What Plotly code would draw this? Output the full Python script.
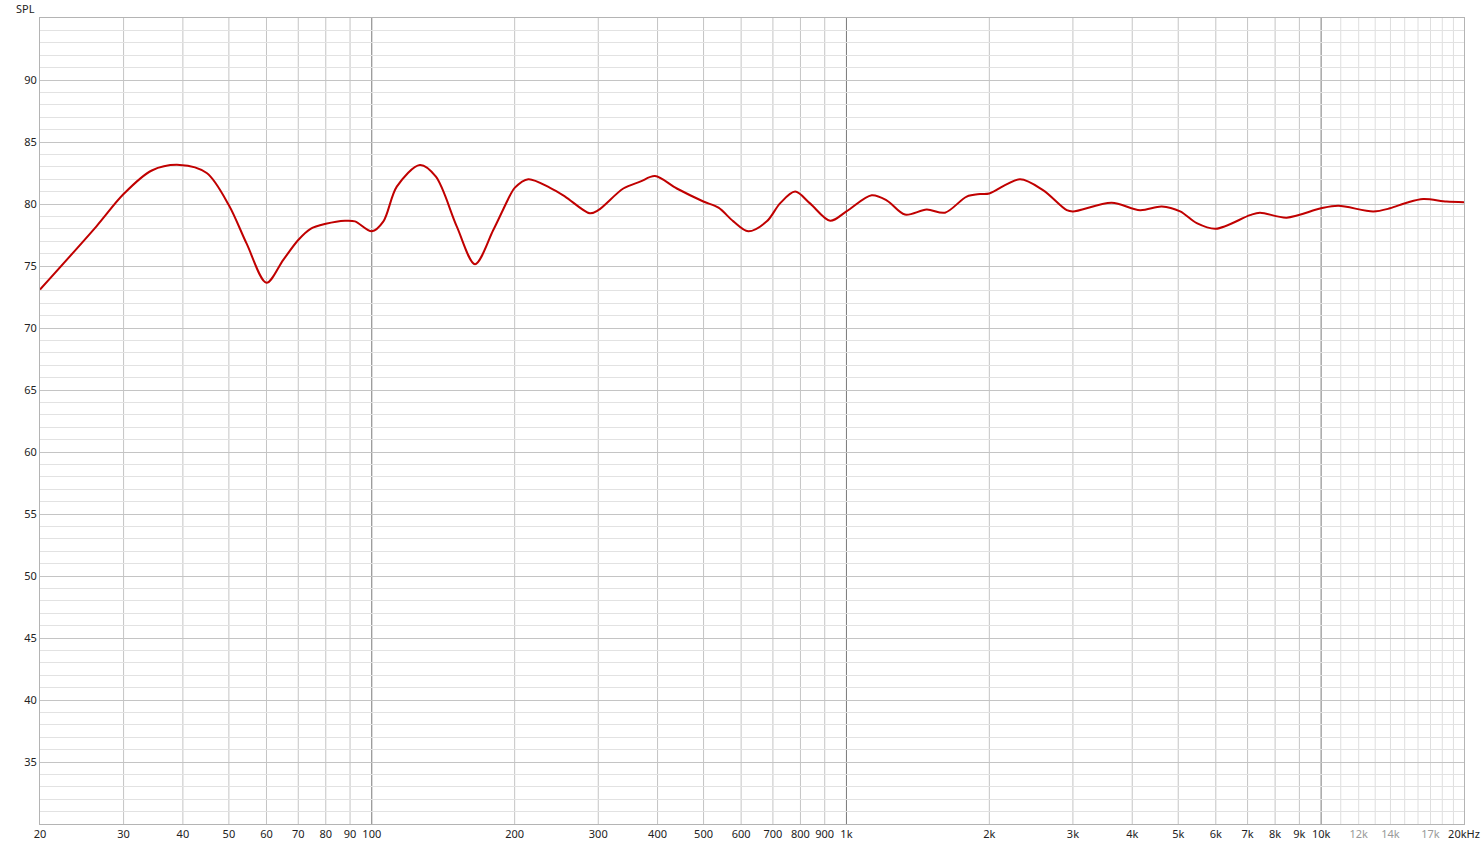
import plotly.graph_objects as go

# frequency response
freq_hz = [20, 26.3, 30, 34.4, 39.4, 44.9, 50, 54.5, 60, 65.1, 70, 74.3, 80, 87.8, 92.2,
           100, 105.8, 112.9, 126.3, 136.5, 151, 165, 180.3, 195.6, 200, 213.7, 237.5,
           255.4, 288, 300, 338.8, 367.5, 395, 439.2, 499.5, 537.6, 577.9, 621, 679.6,
           724.6, 779.7, 838, 924, 1000, 1130, 1215, 1328, 1476, 1613, 1792, 1912, 2000,
           2321, 2599, 2912, 3000, 3620, 4155, 4616, 5047, 5470, 6000, 7083, 7430, 8460,
           10000, 10870, 12880, 13960, 15140, 16410, 18380, 20000]
spl_db = [73.1, 78.2, 80.8, 82.7, 83.15, 82.5, 79.9, 76.8, 73.65, 75.5, 77.1, 78.0, 78.4, 78.65, 78.6,
          77.8, 78.6, 81.4, 83.15, 82.2, 78.2, 75.15, 77.9, 80.7, 81.3, 82.0, 81.3,
          80.6, 79.25, 79.5, 81.25, 81.8, 82.25, 81.25, 80.2, 79.7, 78.6, 77.8, 78.6,
          80.05, 81.0, 80.05, 78.65, 79.4, 80.7, 80.3, 79.15, 79.55, 79.3, 80.6, 80.8, 80.85,
          82.0, 81.1, 79.5, 79.4, 80.1, 79.5, 79.8, 79.4, 78.45, 78.0, 79.1, 79.3, 78.9,
          79.65, 79.85, 79.4, 79.65, 80.1, 80.4, 80.2, 80.15]

x_tickvals = [20, 30, 40, 50, 60, 70, 80, 90, 100, 200, 300, 400, 500, 600, 700, 800, 900,
              1000, 2000, 3000, 4000, 5000, 6000, 7000, 8000, 9000, 10000, 12000, 14000,
              17000, 20000]
x_ticktext = ["20", "30", "40", "50", "60", "70", "80", "90", "100", "200", "300", "400",
              "500", "600", "700", "800", "900", "1k", "2k", "3k", "4k", "5k", "6k", "7k",
              "8k", "9k", "10k", "<span style='color:#999999'>12k</span>",
              "<span style='color:#999999'>14k</span>",
              "<span style='color:#999999'>17k</span>", "20kHz"]
x_grid = [30, 40, 50, 60, 70, 80, 90, 200, 300, 400, 500, 600, 700, 800, 900,
          2000, 3000, 4000, 5000, 6000, 7000, 8000, 9000]
x_minor = [11000, 12000, 13000, 14000, 15000, 16000, 17000, 18000, 19000]
x_decades = [100, 1000, 10000]
y_tickvals = [35, 40, 45, 50, 55, 60, 65, 70, 75, 80, 85, 90]

fig = go.Figure()
fig.add_trace(go.Scatter(x=freq_hz, y=spl_db, mode="lines",
                         line=dict(color="#c00000", width=2, shape="spline", smoothing=0.9),
                         hoverinfo="x+y"))

# vertical grid drawn by hand so decades can be darker
for freqs, col in ((x_minor, "#dedede"), (x_grid, "#c4c4c4"), (x_decades, "#7a7a7a")):
    for f in freqs:
        fig.add_shape(type="line", xref="x", yref="paper", x0=f, x1=f, y0=0, y1=1,
                      line=dict(color=col, width=1), layer="below")

fig.add_annotation(text="SPL", xref="paper", yref="paper", x=-0.002, y=1.0,
                   xanchor="right", yanchor="bottom", showarrow=False,
                   font=dict(size=11, color="#222222"))

fig.update_layout(
    width=1484, height=849,
    margin=dict(l=40, r=20, t=18, b=25, autoexpand=False),
    paper_bgcolor="white", plot_bgcolor="white",
    showlegend=False,
    font=dict(family="Noto Sans", size=11, color="#222222"),
    xaxis=dict(type="log", range=[1.30103, 4.30103], automargin=False,
               tickmode="array", tickvals=x_tickvals, ticktext=x_ticktext,
               showgrid=False,
               showline=True, linecolor="#b4b4b4", mirror=True,
               ticks="", ticklen=0, zeroline=False),
    yaxis=dict(range=[30, 95], tickmode="array", tickvals=y_tickvals, automargin=False,
               showgrid=True, gridcolor="#c4c4c4", gridwidth=1,
               minor=dict(dtick=1, showgrid=True, gridcolor="#e2e2e2", gridwidth=1),
               showline=True, linecolor="#b4b4b4", mirror=True,
               ticks="", ticklen=0, zeroline=False),
)

# page body has a default 8px margin; drop it so the figure sits at the window corner
fig.write_html("out.html", config={"displayModeBar": False},
               post_script="document.body.style.margin='0';document.body.style.overflow='hidden';")
